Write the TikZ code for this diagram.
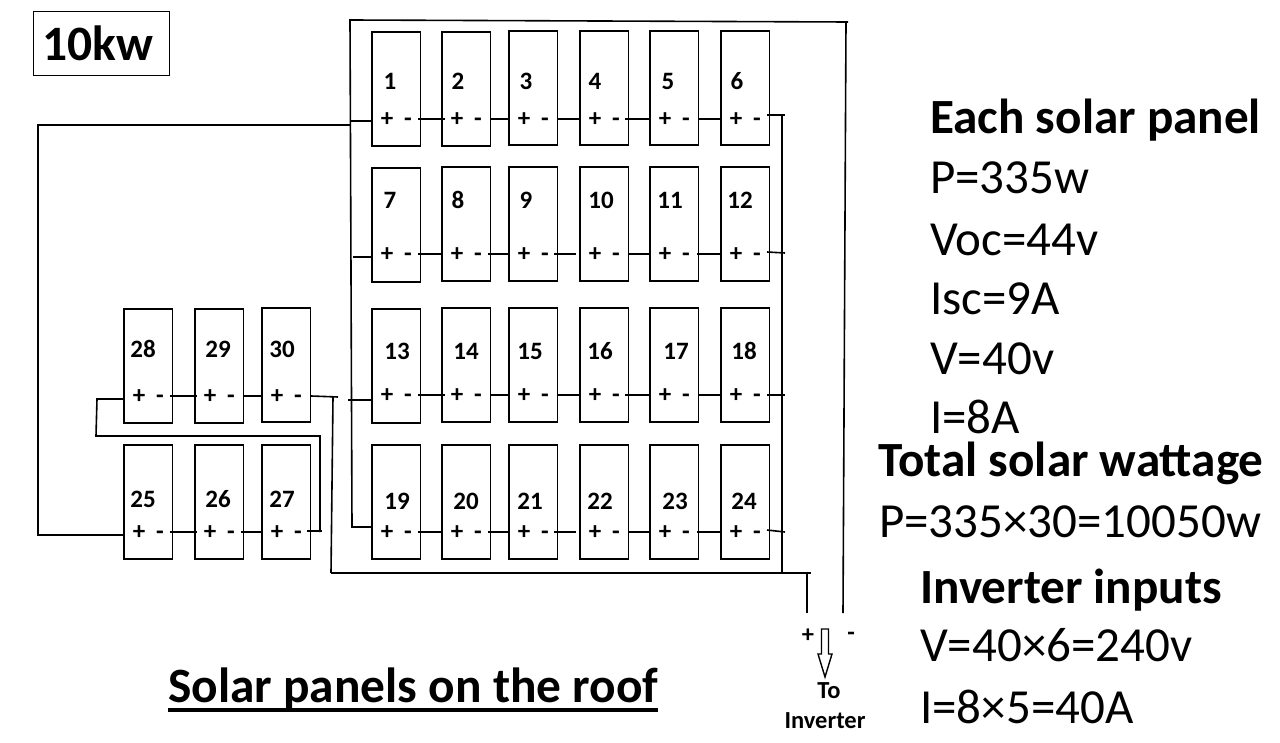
\documentclass[tikz,border=0pt]{standalone}
\usepackage{fontspec}
\usetikzlibrary{calc}
\setmainfont{Carlito}
\newcommand{\fsz}[1]{\fontsize{#1}{#1}\selectfont}
\tikzset{
  panel/.style={draw=black,line width=1.7pt,fill=white,minimum width=48.5pt,minimum height=114pt,inner sep=0pt,anchor=north west},
  numlabel/.style={inner sep=0pt,font=\bfseries\fsz{25}},
  sign/.style={inner sep=0pt,minimum width=12pt,text height=15pt,text depth=0pt,align=center,font=\bfseries\fsz{25}},
  wire/.style={line width=1.6pt,black},
  bigb/.style={inner sep=0pt,anchor=base west,font=\bfseries\fsz{49.2}},
  bigr/.style={inner sep=0pt,anchor=base west,font=\fsz{49}},
  smallb/.style={inner sep=0pt,font=\bfseries\fsz{24.5}},
}
\begin{document}
\begin{tikzpicture}[x=1pt,y=-1pt]
\useasboundingbox (0,0) rectangle (1280,743);
% panels
\foreach \n/\x/\y/\lx/\ly/\sy in {
 1/371/31/390/81/119,2/441/31/458/81/119,3/508/30/526/81/119,4/579/30/595/81/119,5/649/30/668/81/119,6/720/30/737/81/119,
 7/371/167/390/200/254,8/441/166/458/200/254,9/508/166/526/200/254,10/579/166/601/200/254,11/649/166/670/200/254,12/720/166/740/200/254,
 13/371/308/397/351/395,14/441/307/466/351/395,15/508/307/530/351/395,16/579/307/600/351/395,17/649/307/676/351/395,18/720/307/744/351/395,
 19/371/444/397/501/532,20/441/444/466/501/532,21/508/444/530/501/532,22/579/444/600/501/532,23/649/444/675/501/532,24/720/444/744/501/532,
 28/123/308/143/349/396,29/194/308/218/349/396,30/261/307/282/349/396,
 25/123/444/143/499/532,26/194/444/218/499/532,27/261/444/282/499/532}{
  \node[panel] (p\n) at (\x,\y) {};
  \node[numlabel] (n\n) at (\lx,\ly) {\n};
  \node[sign] (a\n) at (\x+16,\sy) {+};
  \node[sign] (c\n) at (\x+37,\sy) {-};
}
% series links: from panel i to panel j, with small overhang at both ends
\foreach \i/\j/\s/\e/\w in {1/2/-3/4/1.6,2/3/0/0/1.6,3/4/0/0/2,4/5/-4/0/1.6,5/6/0/0/1.6,
  7/8/-3/2/1.8,8/9/-3/0/1.4,9/10/-4/-3/1.4,10/11/0/0/1.6,11/12/-2/0/1.6,
  13/14/-3/4/1.6,14/15/0/0/1.6,15/16/0/0/2,16/17/-4/0/1.6,17/18/0/0/1.6,
  19/20/-3/2/2.4,20/21/-3/0/1.4,21/22/-4/-3/1.4,22/23/0/0/1.6,23/24/-2/0/1.6,
  28/29/-3/3/1.6,29/30/0/0/1.6,25/26/-3/3/2.6,26/27/-3/0/1.4}{
  \draw[line width=\w pt] ($(c\i -| p\i.east)+(\s,0)$) -- ($(a\j -| p\j.west)+(\e,0)$);
}
% coordinates
\coordinate (tl) at (350,20);
\coordinate (tr) at (846,22);
\coordinate (trx) at (848,22);
\coordinate (outm) at (843,613);
\coordinate (outp) at (807,613);
\coordinate (lb) at (352,527);
\coordinate (j1) at (350,121);
\coordinate (j2) at (353,257);
\coordinate (j3) at (348,400);
\coordinate (o1) at (350,125);
\coordinate (o2) at (38,125);
\coordinate (o3) at (38,535);
\coordinate (s6) at (767,115);
\coordinate (s12) at (767,252);
\coordinate (s18) at (767,395);
\coordinate (s24) at (767,530);
\coordinate (r1) at (785,115);
\coordinate (r2) at (785,253);
\coordinate (r3) at (785,395);
\coordinate (r4) at (785,532);
\coordinate (v1) at (782,115);
\coordinate (v2) at (782,574);
\coordinate (b1) at (331,573);
\coordinate (b2) at (811,573);
\coordinate (b3) at (807,573);
\coordinate (w0) at (311,396);
\coordinate (w1) at (338,397);
\coordinate (w2) at (333,397);
\coordinate (u1) at (97,399);
\coordinate (u2) at (96,436);
\coordinate (u3) at (320,436);
\coordinate (u4) at (320,532);
\coordinate (u5) at (307,531);
\coordinate (u6) at (322,531);
% frame (negative bus)
\draw[wire] (outm) -- (tr);
\draw[wire] (trx) -- (tl) -- (lb) -- (lb -| p19.west);
\draw[wire] (j1) -- (j1 -| p1.west);
\draw[wire] (j2) -- (j2 -| p7.west);
\draw[wire] (j3) -- (j3 -| p13.west);
% outer loop to panel 25
\draw[wire] (o1) -- (o2) -- (o3) -- (o3 -| p25.west);
% right bus
\draw[wire] (s6) -- (r1);
\draw[wire] (s12) -- (r2);
\draw[wire] (s18) -- (r3);
\draw[wire] (s24) -- (r4);
\draw[wire] (v1) -- (v2);
\draw[wire] (b1) -- (b2);
\draw[wire] (b3) -- (outp);
% left group
\draw[wire] (w0) -- (w1);
\draw[wire] (w2) -- (b1);
\draw[wire] (u1 -| p28.west) -- (u1) -- (u2) -- (u3) -- (u4);
\draw[wire] (u5) -- (u6);
% box and title
\node[draw=black,line width=1.5pt,minimum width=136pt,minimum height=64pt,inner sep=0pt] (kw) at (101.5,43.5) {};
\node[inner sep=0pt,anchor=center,font=\bfseries\fsz{49.5}] (kwt) at (97.5,43) {10kw};
\node[inner sep=0pt,anchor=base west,font=\bfseries\fsz{49.4}] (title) at (168,702) {Solar panels on the roof};
\draw[line width=4pt] ($(title.base west)+(0,7.5)$) -- ($(title.base east)+(0,7.5)$);
% inverter output
\node[smallb] (pl) at (808,636) {+};
\node[smallb] (mi) at (851,636) {-};
\draw[line width=1.4pt,fill=white] (821.5,629) -- (828.5,629) -- (828.5,654) -- (832,654) -- (825,677) -- (818,654) -- (821.5,654) -- cycle;
\node[smallb] (to) at (829,691) {To};
\node[smallb] (inv) at (825,721) {Inverter};
% right text
\node[bigb] (t1) at (930,134) {Each solar panel};
\node[bigr] (t2) at (930,194) {P=335w};
\node[bigr] (t3) at (930,256) {Voc=44v};
\node[bigr] (t4) at (930,315) {Isc=9A};
\node[bigr] (t5) at (930,374) {V=40v};
\node[bigr] (t6) at (930,433) {I=8A};
\node[bigb] (t7) at (878,476) {Total solar wattage};
\node[bigr] (t8) at (879,537) {P=335×30=10050w};
\node[bigb] (t9) at (920,603) {Inverter inputs};
\node[bigr] (t10) at (920,661) {V=40×6=240v};
\node[bigr] (t11) at (920,723) {I=8×5=40A};
\end{tikzpicture}
\end{document}
